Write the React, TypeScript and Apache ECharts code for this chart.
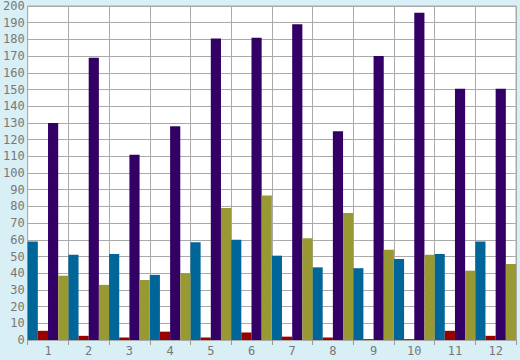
import React, { useEffect, useRef } from "react";
import * as echarts from "echarts";

const categories = ["1", "2", "3", "4", "5", "6", "7", "8", "9", "10", "11", "12"];
const blueValues = [59, 51, 51.5, 39, 58.5, 60, 50.5, 43.5, 43, 48.5, 51.5, 59];
const redValues = [5.5, 2.5, 1.5, 5, 1.5, 4.5, 2, 1.5, 0.5, 0.5, 5.5, 2.5];
const purpleValues = [130, 169, 111, 128, 180.5, 181, 189, 125, 170, 196, 150.5, 150.5];
const oliveValues = [38.5, 33, 36, 40, 79, 86.5, 61, 76, 54, 51, 41.5, 45.5];

export default function App() {
  const ref = useRef<HTMLDivElement>(null);
  useEffect(() => {
    document.body.style.margin = "0";
    const chart = echarts.init(ref.current!, null, { renderer: "svg" });
    const font = "DejaVu Sans Mono";
    const mk = (name: string, data: number[], color: string) => ({
      name,
      type: "bar",
      data,
      barGap: "0%",
      barCategoryGap: "0%",
      itemStyle: { color },
    });
    chart.setOption({
      animation: false,
      backgroundColor: "#d9eff6",
      grid: {
        left: 26,
        right: 4,
        top: 5,
        bottom: 20,
        show: true,
        backgroundColor: "#ffffff",
        borderColor: "#aaaaaa",
        borderWidth: 1,
      },
      xAxis: {
        type: "category",
        data: categories,
        axisLine: { show: true, lineStyle: { color: "#aaaaaa" } },
        axisTick: { show: true, length: 5, lineStyle: { color: "#999999" } },
        axisLabel: { color: "#777777", fontFamily: font, fontSize: 12, margin: 5 },
        splitLine: { show: true, lineStyle: { color: "#aaaaaa", width: 1 } },
      },
      yAxis: {
        type: "value",
        min: 0,
        max: 200,
        interval: 10,
        axisLine: { show: false },
        axisTick: { show: false },
        axisLabel: { color: "#777777", fontFamily: font, fontSize: 12, margin: 3 },
        splitLine: { show: true, lineStyle: { color: "#aaaaaa", width: 1 } },
      },
      series: [
        mk("A", blueValues, "#006699"),
        mk("B", redValues, "#990000"),
        mk("C", purpleValues, "#330066"),
        mk("D", oliveValues, "#999933"),
      ],
    });
    return () => chart.dispose();
  }, []);
  return <div ref={ref} style={{ width: 520, height: 360 }} />;
}
